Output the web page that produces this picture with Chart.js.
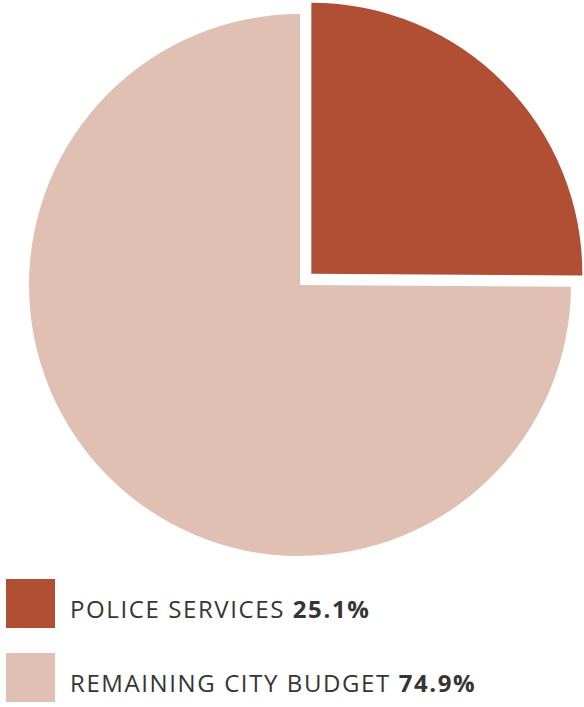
<!DOCTYPE html>
<html>
<head>
<meta charset="utf-8">
<script src="https://cdn.jsdelivr.net/npm/chart.js@4"></script>
<style>
  html, body { margin: 0; padding: 0; background: #fff; }
  body { width: 584px; height: 707px; position: relative; overflow: hidden; font-family: "Open Sans", Lato, sans-serif; }
  #wrap { position: absolute; left: 0; top: 0; width: 584px; height: 570px; }
  .leg { position: absolute; left: 6px; height: 49px; display: flex; align-items: center; }
  .sw { width: 49px; height: 49px; flex: none; }
  .lab { margin-left: 15px; margin-top: 9px; font-size: 24px; color: #353535; letter-spacing: 1.6px; white-space: nowrap; }
  .lab b { font-weight: 700; }
</style>
</head>
<body>
<div id="wrap"><canvas id="pie"></canvas></div>
<div id="legend"></div>
<script>
var labels = ["POLICE SERVICES", "REMAINING CITY BUDGET"];
var shares = [25.1, 74.9];
var colors = ["#b04f33", "#e0c0b3"];
var offsets = [64, 0];

var legend = document.getElementById("legend");
labels.forEach(function (name, i) {
  var row = document.createElement("div");
  row.className = "leg";
  row.style.top = (579 + i * 74) + "px";
  row.innerHTML = '<div class="sw" style="background:' + colors[i] + '"></div>' +
    '<div class="lab">' + name + ' <b>' + shares[i].toFixed(1) + '%</b></div>';
  legend.appendChild(row);
});

new Chart(document.getElementById("pie").getContext("2d"), {
  type: "pie",
  data: {
    labels: labels,
    datasets: [{
      data: shares,
      backgroundColor: colors,
      borderWidth: 0,
      offset: offsets,
      hoverOffset: 0
    }]
  },
  options: {
    responsive: true,
    maintainAspectRatio: false,
    animation: false,
    radius: 271,
    layout: { padding: { left: 16, right: 0, top: 0, bottom: 0 } },
    plugins: { legend: { display: false }, tooltip: { enabled: false } }
  }
});
</script>
</body>
</html>
